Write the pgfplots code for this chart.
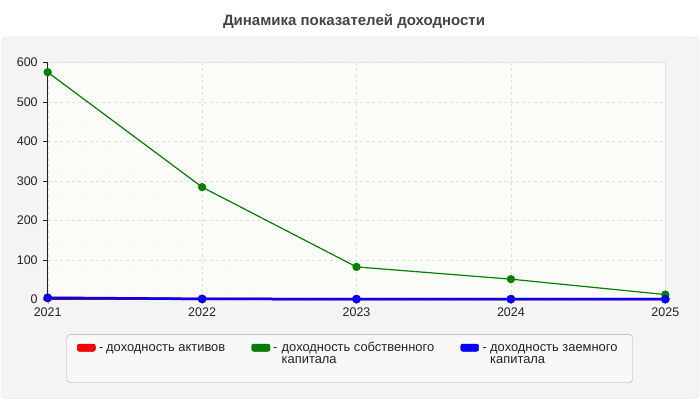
\documentclass[border=0pt]{standalone}
\usepackage{fontspec}
\setmainfont{Liberation Sans}
\usepackage{pgfplots}
\pgfplotsset{compat=1.18}
\usetikzlibrary{patterns}

\definecolor{panel}{HTML}{F4F4F4}
\definecolor{panelline}{HTML}{E2E2E2}
\definecolor{plotbg}{HTML}{FEFEFA}
\definecolor{hatch}{HTML}{F6F6F3}
\definecolor{gridc}{HTML}{DDDDDD}
\definecolor{titlec}{HTML}{444444}
\definecolor{textc}{HTML}{222222}
\definecolor{legline}{HTML}{AAAAAA}
\definecolor{cgreen}{HTML}{008000}
\definecolor{cblue}{HTML}{0000FF}
\definecolor{cred}{HTML}{FF0000}

\newcommand{\lfont}{\fontsize{12.9}{15}\selectfont}

\begin{document}
\begin{tikzpicture}[x=1pt,y=1pt]
\fill[white] (0,0) rectangle (700,400);
\useasboundingbox (0,0) rectangle (700,400);
\filldraw[fill=panel, draw=panelline, rounded corners=5pt] (1,1.5) rectangle (699,363);
\node[anchor=base, font=\bfseries\fontsize{15}{18}\selectfont, text=titlec]
  at (354,374.5) {Динамика показателей доходности};

\begin{axis}[
    at={(47.7pt,100.7pt)}, anchor=south west,
    scale only axis,
    width=617.6pt, height=237pt,
    xmin=2021, xmax=2025,
    ymin=0, ymax=600,
    xtick={2021,2022,2023,2024,2025},
    ytick={0,100,200,300,400,500,600},
    /pgf/number format/1000 sep={},
    /pgf/number format/assume math mode=true,
    tick label style={font=\fontsize{12.5}{15}\selectfont, text=textc},
    y tick label style={xshift=-1.5pt},
    tick pos=left,
    tick align=outside,
    major tick length=5pt,
    x tick style={draw=gray!60},
    y tick style={draw=textc},
    axis line style={draw=none},
    grid=major,
    major grid style={dashed, draw=gridc},
    axis background/.style={fill=plotbg, postaction={pattern=north east lines, pattern color=hatch}},
    clip=false,
]
\draw[panelline] (rel axis cs:0,1) -- (rel axis cs:1,1) -- (rel axis cs:1,0);
\draw[textc, line width=0.8pt] (rel axis cs:0,1) -- (rel axis cs:0,0) -- (rel axis cs:1,0);

\addplot[color=cred, line width=2.5pt, mark=*, mark size=3pt]
  coordinates {(2021,3)(2022,1)(2023,0.5)(2024,0.5)(2025,0.3)};
\addplot[color=cgreen, line width=1.2pt, mark=*, mark size=3.5pt]
  coordinates {(2021,575)(2022,284)(2023,82)(2024,51)(2025,12)};
\addplot[color=cblue, line width=2.5pt, mark=*, mark size=3pt]
  coordinates {(2021,4)(2022,1)(2023,0.5)(2024,0.5)(2025,0.5)};
\end{axis}

% legend
\filldraw[fill=panel!60!white, draw=legline, rounded corners=4pt] (66.7,17.3) rectangle (632.7,65.7);
\filldraw[fill=cred, draw=cred!70!black, rounded corners=2pt] (77.3,48.7) rectangle (95.3,56);
\filldraw[fill=cgreen, draw=cgreen!70!black, rounded corners=2pt] (251.7,48.7) rectangle (270,56);
\filldraw[fill=cblue, draw=cblue!70!black, rounded corners=2pt] (460.7,48.7) rectangle (478.7,56);
\begin{scope}[every node/.style={anchor=base west, inner sep=0pt, font=\lfont, text=textc}]
\node at (99,49) {-};
\node at (106,49) {доходность активов};
\node at (273,49) {-};
\node at (281.5,49) {доходность собственного};
\node at (281.5,36.5) {капитала};
\node at (482.3,49) {-};
\node at (490,49) {доходность заемного};
\node at (490,36.5) {капитала};
\end{scope}
\end{tikzpicture}
\end{document}
